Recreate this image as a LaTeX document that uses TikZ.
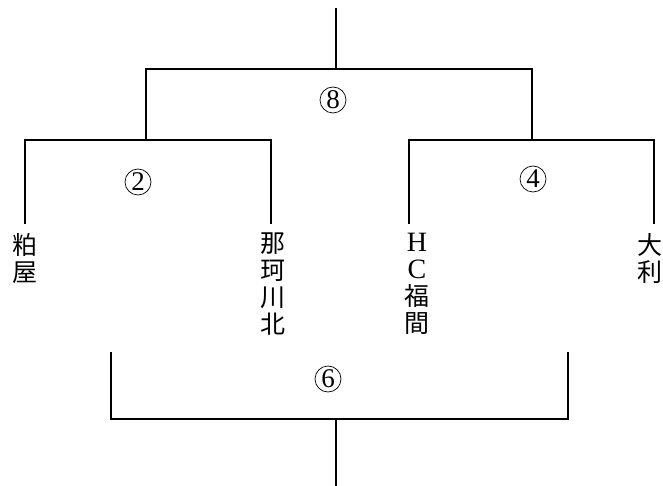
\documentclass[tikz,border=0pt]{standalone}
\usepackage{fontspec}
\newfontfamily\jpfont{Noto Sans CJK JP}
\newfontfamily\numfont{Liberation Serif}
\usepackage{tikz}
\usetikzlibrary{calc}
\tikzset{team label/.style={anchor=north,align=center,inner xsep=0,inner ysep=0,font=\jpfont\fontsize{25}{27}\selectfont}}
\tikzset{match label/.style={circle,draw,line width=0.7pt,inner sep=0,minimum size=26,font=\numfont\fontsize{27}{27}\selectfont}}
\tikzset{bracket/.style={line width=1.7pt}}
\def\latin#1{{\numfont\fontsize{28}{27}\selectfont #1}}

\begin{document}
\begin{tikzpicture}[x=1pt,y=-1pt]
  \useasboundingbox (0,0) rectangle (663,486);

  \def \topY{8}
  \def \finalY{69}
  \def \semiY{140}
  \def \teamY{233}
  \def \legGap{9}

  % teams
  \node[team label] (kasuya)   at (25,\teamY)  {粕\\屋};
  \node[team label] (nakagawa) at (273,\teamY) {那\\珂\\川\\北};
  \node[team label] (fukuma)   at (417,\teamY) {\latin{H}\\\latin{C}\\福\\間};
  \node[team label] (oori)     at (650,\teamY) {大\\利};

  % match points
  \coordinate (finalTop) at (336,\topY);
  \coordinate (final)    at (336,\finalY);
  \coordinate (semiA)    at (146,\semiY);
  \coordinate (semiB)    at (532,\semiY);

  \draw[bracket] (finalTop) -- (final);
  \draw[bracket] (semiA) |- (final) -| (semiB);
  \draw[bracket] ($(kasuya.north)+(0,-\legGap)$) |- (semiA) -| ($(nakagawa.north)+(-2,-\legGap)$);
  \draw[bracket] ($(fukuma.north)+(-8,-\legGap)$) |- (semiB) -| ($(oori.north)+(4,-\legGap)$);

  % lower bracket
  \coordinate (thirdA)   at (111,352);
  \coordinate (thirdB)   at (568,352);
  \coordinate (third)    at (336,419);
  \coordinate (thirdEnd) at (336,486);

  \draw[bracket] (thirdA) |- (third) -| (thirdB);
  \draw[bracket] (third) -- (thirdEnd);

  \node[match label] (m8) at (333,100) {8};
  \node[match label] (m2) at (138,182) {2};
  \node[match label] (m4) at (533,179) {4};
  \node[match label] (m6) at (328,379) {6};

\end{tikzpicture}
\end{document}
